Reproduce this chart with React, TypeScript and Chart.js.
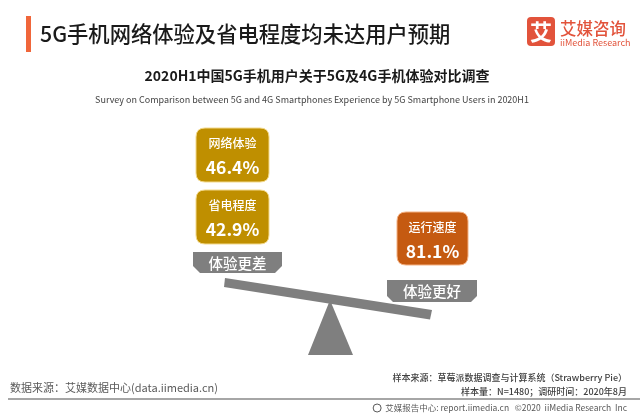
import React, { useEffect, useRef } from 'react';
import { Chart, registerables } from 'chart.js';

Chart.register(...registerables);

// ---- data ----
const categories = ['网络体验', '省电程度', '运行速度'];
const values = [46.4, 42.9, 81.1];
const groupOf = [0, 0, 1];
const groupLabels = ['体验更差', '体验更好'];
const groupColors = ['#BF8F00', '#C55A11'];

const TITLE = '5G手机网络体验及省电程度均未达用户预期';
const SUBTITLE = '2020H1中国5G手机用户关于5G及4G手机体验对比调查';
const SUBTITLE_EN = 'Survey on Comparison between 5G and 4G Smartphones Experience by 5G Smartphone Users in 2020H1';
const SOURCE = '数据来源：艾媒数据中心(data.iimedia.cn)';
const SAMPLE_SRC = '样本来源：草莓派数据调查与计算系统（Strawberry Pie）';
const SAMPLE_N = '样本量：N=1480；调研时间：2020年8月';
const REPORT = '艾媒报告中心: report.iimedia.cn   ©2020  iiMedia Research  Inc';

const FONT = '"Noto Sans CJK SC", "Noto Sans", sans-serif';

// ---- layout (positions/sizes only) ----
const tabs = [
  { x: 193, y: 252, w: 89, h: 21, c: 7 },
  { x: 387, y: 280, w: 90, h: 22, c: 6 },
];
const boxes = [
  { x: 196, y: 128, w: 73, h: 54 },
  { x: 196, y: 190, w: 73, h: 54 },
  { x: 397, y: 212, w: 71, h: 53 },
];

function rr(ctx: CanvasRenderingContext2D, x: number, y: number, w: number, h: number, r: number) {
  ctx.beginPath();
  ctx.moveTo(x + r, y);
  ctx.lineTo(x + w - r, y);
  ctx.quadraticCurveTo(x + w, y, x + w, y + r);
  ctx.lineTo(x + w, y + h - r);
  ctx.quadraticCurveTo(x + w, y + h, x + w - r, y + h);
  ctx.lineTo(x + r, y + h);
  ctx.quadraticCurveTo(x, y + h, x, y + h - r);
  ctx.lineTo(x, y + r);
  ctx.quadraticCurveTo(x, y, x + r, y);
  ctx.closePath();
}

function text(ctx: CanvasRenderingContext2D, s: string, x: number, y: number, size: number, color: string, weight = 'normal', align: CanvasTextAlign = 'left') {
  ctx.font = `${weight} ${size}px ${FONT}`;
  ctx.fillStyle = color;
  ctx.textAlign = align;
  ctx.textBaseline = 'middle';
  ctx.fillText(s, x, y);
}

const infographic = {
  id: 'infographic',
  beforeDraw(chart: any) {
    const ctx = chart.ctx as CanvasRenderingContext2D;
    ctx.save();
    ctx.fillStyle = '#ffffff';
    ctx.fillRect(0, 0, chart.width, chart.height);
    ctx.restore();
  },
  afterDraw(chart: any) {
    const ctx = chart.ctx as CanvasRenderingContext2D;
    const labels: string[] = chart.data.labels;
    const data: number[] = chart.data.datasets[0].data;
    ctx.save();

    // header
    ctx.fillStyle = '#F0663A';
    ctx.fillRect(26, 16, 5, 36);
    text(ctx, TITLE, 40, 33.5, 21.3, '#1a1a1a', '500');

    // logo
    ctx.fillStyle = '#E2533B';
    rr(ctx, 527, 17, 28, 29, 4);
    ctx.fill();
    text(ctx, '艾', 541, 32, 22, '#ffffff', 'bold', 'center');
    text(ctx, '艾媒咨询', 560, 29, 16.5, '#E2533B', '500');
    text(ctx, 'iiMedia Research', 560, 43, 9, '#E2533B', 'normal');

    // subtitles
    text(ctx, SUBTITLE, 317, 76, 14, '#1a1a1a', 'bold', 'center');
    text(ctx, SUBTITLE_EN, 312, 100, 9, '#444444', 'normal', 'center');

    // seesaw beam
    ctx.fillStyle = '#7F7F7F';
    ctx.beginPath();
    ctx.moveTo(225, 278);
    ctx.lineTo(432, 310);
    ctx.lineTo(430, 319.5);
    ctx.lineTo(224, 287);
    ctx.closePath();
    ctx.fill();
    // fulcrum
    ctx.beginPath();
    ctx.moveTo(330, 300);
    ctx.lineTo(353, 355);
    ctx.lineTo(308, 355);
    ctx.closePath();
    ctx.fill();

    // tabs
    tabs.forEach((t, i) => {
      ctx.fillStyle = '#7F7F7F';
      ctx.beginPath();
      ctx.moveTo(t.x, t.y);
      ctx.lineTo(t.x + t.w, t.y);
      ctx.lineTo(t.x + t.w, t.y + t.h - t.c);
      ctx.lineTo(t.x + t.w - t.c, t.y + t.h);
      ctx.lineTo(t.x + t.c, t.y + t.h);
      ctx.lineTo(t.x, t.y + t.h - t.c);
      ctx.closePath();
      ctx.fill();
      text(ctx, groupLabels[i], t.x + t.w / 2, t.y + t.h / 2 + 0.5, 14.5, '#ffffff', '500', 'center');
    });

    // boxes
    labels.forEach((lab, i) => {
      const b = boxes[i];
      const col = groupColors[groupOf[i]];
      rr(ctx, b.x, b.y, b.w, b.h, 9);
      ctx.fillStyle = col;
      ctx.fill();
      ctx.lineWidth = 1;
      ctx.strokeStyle = groupOf[i] === 0 ? '#F3D98B' : '#F4B183';
      ctx.stroke();
      const cx = b.x + b.w / 2;
      text(ctx, lab, cx, b.y + 15, 12, '#ffffff', '500', 'center');
      text(ctx, data[i].toFixed(1) + '%', cx, b.y + 39, 17.5, '#ffffff', 'bold', 'center');
    });

    // footer
    text(ctx, SOURCE, 10, 388, 11, '#595959', 'normal');
    text(ctx, SAMPLE_SRC, 627, 378, 9, '#404040', '500', 'right');
    text(ctx, SAMPLE_N, 627, 392, 9, '#404040', '500', 'right');
    ctx.fillStyle = '#A6A6A6';
    ctx.fillRect(8, 398, 632, 2);
    text(ctx, REPORT, 627, 408, 8.5, '#595959', 'normal', 'right');
    // small globe icon
    ctx.font = `normal 8.5px ${FONT}`;
    const w = ctx.measureText(REPORT).width;
    ctx.strokeStyle = '#595959';
    ctx.lineWidth = 1;
    ctx.beginPath();
    ctx.arc(627 - w - 8, 408, 4, 0, Math.PI * 2);
    ctx.stroke();

    ctx.restore();
  },
};

export default function App() {
  const ref = useRef<HTMLCanvasElement | null>(null);
  useEffect(() => {
    document.body.style.margin = '0';
    const chart = new Chart(ref.current as HTMLCanvasElement, {
      type: 'bar',
      data: {
        labels: categories,
        datasets: [{ data: values, backgroundColor: 'rgba(0,0,0,0)', borderWidth: 0 }],
      },
      options: {
        animation: false,
        responsive: false,
        events: [],
        scales: { x: { display: false }, y: { display: false, min: 0, max: 100 } },
        plugins: { legend: { display: false }, tooltip: { enabled: false }, title: { display: false } },
      },
      plugins: [infographic],
    });
    return () => chart.destroy();
  }, []);
  return (
    <div style={{ position: 'absolute', left: 0, top: 0, width: 640, height: 416 }}>
      <canvas ref={ref} width={640} height={416} style={{ width: 640, height: 416 }} />
    </div>
  );
}
